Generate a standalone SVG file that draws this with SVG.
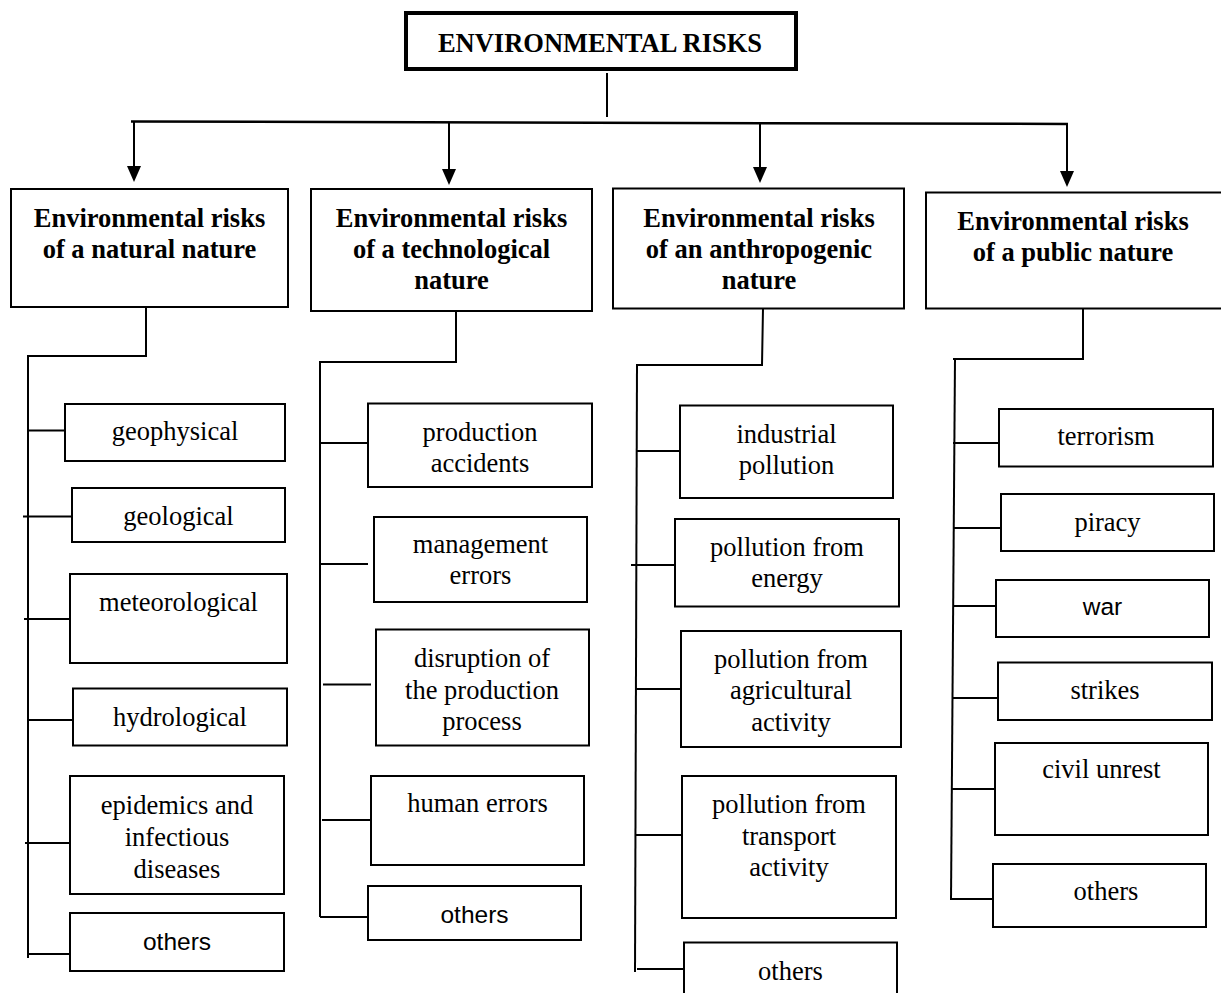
<svg xmlns="http://www.w3.org/2000/svg" width="1221" height="993" viewBox="0 0 1221 993">
<style>
.bx{fill:#fff;stroke:#000;stroke-width:2}
.top{stroke-width:4}
.t{font-family:"Liberation Serif","Times New Roman",serif;font-size:26.5px;text-anchor:middle;fill:#000}
.b{font-weight:bold}
.s{font-family:"Liberation Sans",Arial,sans-serif;font-size:24.5px}
.ln{stroke:#000;stroke-width:2;fill:none}
.bus{stroke-width:2.5}
</style>
<defs>
<marker id="ah" markerUnits="userSpaceOnUse" markerWidth="14" markerHeight="18" viewBox="0 0 14 18" refX="7" refY="17" orient="auto-start-reverse">
<path d="M0,0 L14,0 L7,17 Z" fill="#000" transform="rotate(0)"/>
</marker>
</defs>
<rect width="1221" height="993" fill="#fff"/>
<g id="connectors">
<path class="ln" d="M607 73 V117"/>
<path class="ln bus" d="M131 121.5 L1068 124"/>
<path class="ln" d="M134 121.5 V166"/>
<path d="M127 166 L141 166 L134 182 Z" fill="#000"/>
<path class="ln" d="M449 122 V169"/>
<path d="M442 169 L456 169 L449 185 Z" fill="#000"/>
<path class="ln" d="M760 124 V167"/>
<path d="M753 167 L767 167 L760 183 Z" fill="#000"/>
<path class="ln" d="M1067 124 V171"/>
<path d="M1060 171 L1074 171 L1067 187 Z" fill="#000"/>
<path class="ln" d="M146 307 V356 H27"/>
<path class="ln" d="M28 355 V958"/>
<path class="ln" d="M29 430.5 H65 M23 516.5 H72 M24 619 H70 M29 720 H77 M25 843 H74 M29 954 H70"/>
<path class="ln" d="M456 310 V362 H320"/>
<path class="ln" d="M320 361 V917"/>
<path class="ln" d="M320 443 H368 M320 564 H368 M323 684.5 H371 M322 820 H371 M320 917 H370"/>
<path class="ln" d="M763 308 L762 365 H637"/>
<path class="ln" d="M637 364 L635 972"/>
<path class="ln" d="M637 451 H686 M631 565 H679 M636 689 H686 M635 835 H684 M637 969 H684"/>
<path class="ln" d="M1083 309 V359 H953"/>
<path class="ln" d="M955 358 L951 900"/>
<path class="ln" d="M953 443 H999 M954 528 H1001 M953 606 H1002 M952 698 H1000 M952 789 H999 M951 899 H993"/>
</g>
<g id="root">
<rect class="bx top" x="406" y="13" width="390" height="56"/>
<text class="t b" x="600" y="52">ENVIRONMENTAL RISKS</text>
</g>
<g id="natural">
<rect class="bx" x="11" y="189" width="277" height="118"/>
<text class="t b" x="149.5" y="227">Environmental risks</text>
<text class="t b" x="149.5" y="258">of a natural nature</text>
</g>
<g id="technological">
<rect class="bx" x="311" y="189" width="281" height="122"/>
<text class="t b" x="451.5" y="227">Environmental risks</text>
<text class="t b" x="451.5" y="258">of a technological</text>
<text class="t b" x="451.5" y="289">nature</text>
</g>
<g id="anthropogenic">
<rect class="bx" x="613" y="188.5" width="291" height="120"/>
<text class="t b" x="759" y="227">Environmental risks</text>
<text class="t b" x="759" y="258">of an anthropogenic</text>
<text class="t b" x="759" y="289">nature</text>
</g>
<g id="public">
<rect class="bx" x="926" y="192.5" width="300" height="116"/>
<text class="t b" x="1073" y="230">Environmental risks</text>
<text class="t b" x="1073" y="261">of a public nature</text>
</g>
<g id="geophysical"><rect class="bx" x="65" y="404" width="220" height="57"/><text class="t" x="175" y="440">geophysical</text></g>
<g id="geological"><rect class="bx" x="72" y="488" width="213" height="54"/><text class="t" x="178.5" y="525">geological</text></g>
<g id="meteorological"><rect class="bx" x="70" y="574" width="217" height="89"/><text class="t" x="178.5" y="611">meteorological</text></g>
<g id="hydrological"><rect class="bx" x="73" y="688.5" width="214" height="57"/><text class="t" x="180" y="726">hydrological</text></g>
<g id="epidemics"><rect class="bx" x="70" y="776" width="214" height="118"/><text class="t" x="177" y="814">epidemics and</text><text class="t" x="177" y="846">infectious</text><text class="t" x="177" y="878">diseases</text></g>
<g id="others1"><rect class="bx" x="70" y="913" width="214" height="58"/><text class="t s" x="177" y="950">others</text></g>
<g id="production-accidents"><rect class="bx" x="368" y="403.5" width="224" height="83.5"/><text class="t" x="480" y="441">production</text><text class="t" x="480" y="472">accidents</text></g>
<g id="management-errors"><rect class="bx" x="374" y="517" width="213" height="85"/><text class="t" x="480.5" y="553">management</text><text class="t" x="480.5" y="584">errors</text></g>
<g id="disruption"><rect class="bx" x="376" y="629.5" width="213" height="116"/><text class="t" x="482" y="667">disruption of</text><text class="t" x="482" y="699">the production</text><text class="t" x="482" y="730">process</text></g>
<g id="human-errors"><rect class="bx" x="371" y="776" width="213" height="89"/><text class="t" x="477.5" y="812">human errors</text></g>
<g id="others2"><rect class="bx" x="368" y="886" width="213" height="54"/><text class="t s" x="474.5" y="923">others</text></g>
<g id="industrial"><rect class="bx" x="680" y="405.5" width="213" height="92.5"/><text class="t" x="786.5" y="443">industrial</text><text class="t" x="786.5" y="474">pollution</text></g>
<g id="energy"><rect class="bx" x="675" y="519" width="224" height="87.5"/><text class="t" x="787" y="555.5">pollution from</text><text class="t" x="787" y="587">energy</text></g>
<g id="agricultural"><rect class="bx" x="681" y="631" width="220" height="116"/><text class="t" x="791" y="668">pollution from</text><text class="t" x="791" y="699">agricultural</text><text class="t" x="791" y="731">activity</text></g>
<g id="transport"><rect class="bx" x="682" y="776" width="214" height="142"/><text class="t" x="789" y="813">pollution from</text><text class="t" x="789" y="845">transport</text><text class="t" x="789" y="876">activity</text></g>
<g id="others3"><rect class="bx" x="684" y="942.5" width="213" height="62"/><text class="t" x="790.5" y="980">others</text></g>
<g id="terrorism"><rect class="bx" x="999" y="409" width="214" height="57.5"/><text class="t" x="1106" y="445">terrorism</text></g>
<g id="piracy"><rect class="bx" x="1001" y="494" width="213" height="57"/><text class="t" x="1107.5" y="531">piracy</text></g>
<g id="war"><rect class="bx" x="996" y="580" width="213" height="57"/><text class="t s" x="1102.5" y="615">war</text></g>
<g id="strikes"><rect class="bx" x="998" y="662.5" width="214" height="57.5"/><text class="t" x="1105" y="699">strikes</text></g>
<g id="civil-unrest"><rect class="bx" x="995" y="743" width="213" height="92"/><text class="t" x="1101.5" y="778">civil unrest</text></g>
<g id="others4"><rect class="bx" x="993" y="864" width="213" height="63"/><text class="t" x="1106" y="900">others</text></g>
</svg>
